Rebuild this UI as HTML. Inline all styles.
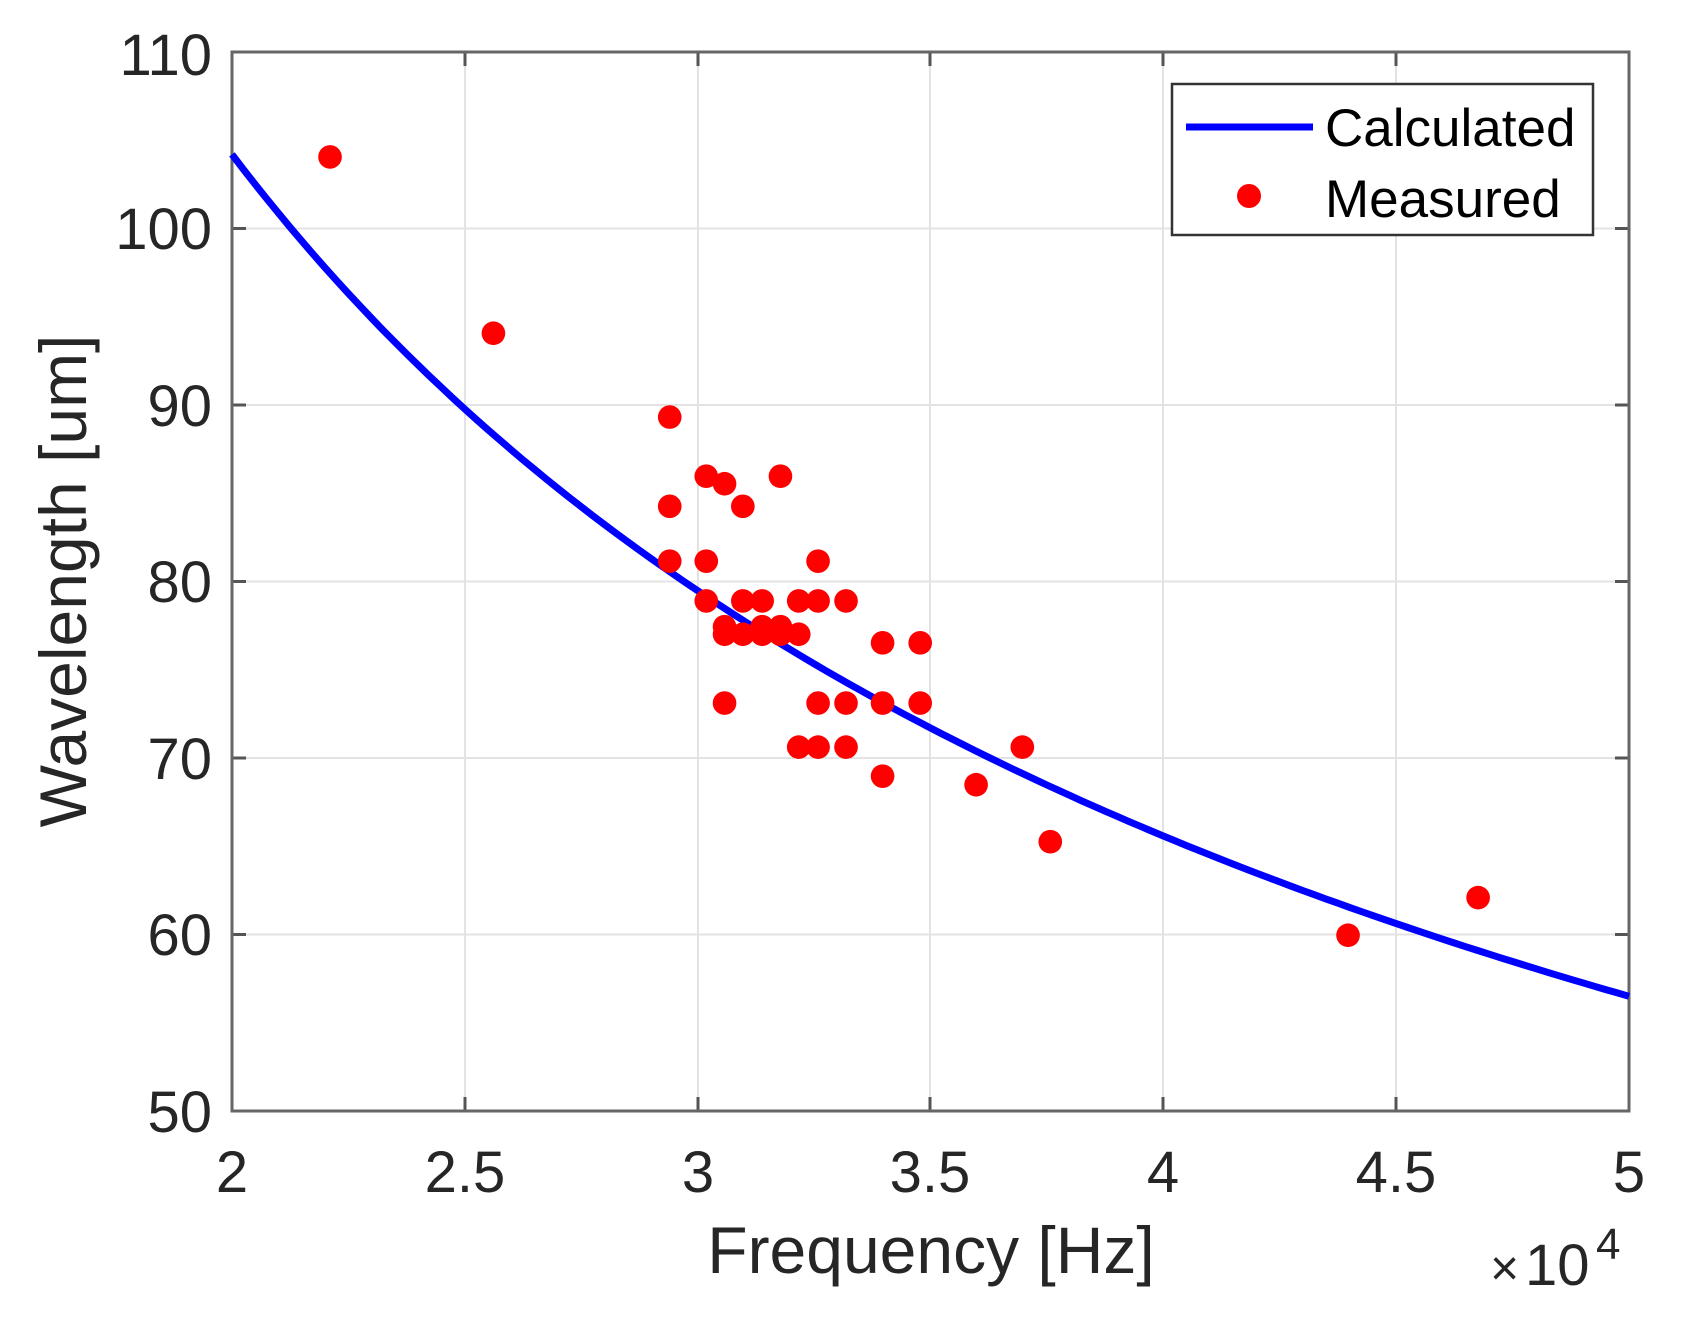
<!DOCTYPE html>
<html><head><meta charset="utf-8"><style>body{margin:0;background:#fff}svg{display:block}</style></head><body>
<svg width="1686" height="1342" xmlns="http://www.w3.org/2000/svg" font-family="Liberation Sans, Arial, sans-serif">
<rect width="1686" height="1342" fill="#fff"/>
<g stroke="#e3e3e3" stroke-width="2">
<line x1="465" y1="52" x2="465" y2="1111"/><line x1="698" y1="52" x2="698" y2="1111"/><line x1="930" y1="52" x2="930" y2="1111"/><line x1="1163" y1="52" x2="1163" y2="1111"/><line x1="1396" y1="52" x2="1396" y2="1111"/>
<line x1="232" y1="228.5" x2="1629" y2="228.5"/><line x1="232" y1="405" x2="1629" y2="405"/><line x1="232" y1="581.5" x2="1629" y2="581.5"/><line x1="232" y1="758" x2="1629" y2="758"/><line x1="232" y1="934.5" x2="1629" y2="934.5"/>
</g>
<g stroke="#555" stroke-width="3">
<line x1="465" y1="1111" x2="465" y2="1097"/><line x1="698" y1="1111" x2="698" y2="1097"/><line x1="930" y1="1111" x2="930" y2="1097"/><line x1="1163" y1="1111" x2="1163" y2="1097"/><line x1="1396" y1="1111" x2="1396" y2="1097"/>
<line x1="465" y1="52" x2="465" y2="66"/><line x1="698" y1="52" x2="698" y2="66"/><line x1="930" y1="52" x2="930" y2="66"/><line x1="1163" y1="52" x2="1163" y2="66"/><line x1="1396" y1="52" x2="1396" y2="66"/>
<line x1="232" y1="228.5" x2="246" y2="228.5"/><line x1="232" y1="405" x2="246" y2="405"/><line x1="232" y1="581.5" x2="246" y2="581.5"/><line x1="232" y1="758" x2="246" y2="758"/><line x1="232" y1="934.5" x2="246" y2="934.5"/>
<line x1="1629" y1="228.5" x2="1615" y2="228.5"/><line x1="1629" y1="405" x2="1615" y2="405"/><line x1="1629" y1="581.5" x2="1615" y2="581.5"/><line x1="1629" y1="758" x2="1615" y2="758"/><line x1="1629" y1="934.5" x2="1615" y2="934.5"/>
</g>
<rect x="232" y="52" width="1397" height="1059" fill="none" stroke="#666" stroke-width="3"/>
<polyline id="curve" fill="none" stroke="#0000ff" stroke-width="7" stroke-linejoin="round" points="232,154.4 348.4,293.6 464.8,409 581.3,506.7 697.7,590.9 814.1,663.7 930.5,728 1047,785 1163.3,836 1279.8,881.9 1396.2,923.6 1512.7,961.5 1629,996.3"/>
<script>
(function(){var p=[];for(var i=0;i<=120;i++){var f=2+3*i/120;var v=104.2*Math.pow(2/f,0.668);p.push((232+(f-2)*465.67).toFixed(1)+','+(1111-(v-50)*17.65).toFixed(1));}document.getElementById('curve').setAttribute('points',p.join(' '));})();
</script>
<g fill="#ff0000" transform="scale(1.075)">
<circle cx="307" cy="146" r="11"/><circle cx="459" cy="310" r="11"/><circle cx="623" cy="388" r="11"/><circle cx="623" cy="471" r="11"/><circle cx="623" cy="522" r="11"/><circle cx="657" cy="443" r="11"/><circle cx="674" cy="450" r="11"/><circle cx="691" cy="471" r="11"/><circle cx="726" cy="443" r="11"/><circle cx="657" cy="522" r="11"/><circle cx="657" cy="559" r="11"/><circle cx="761" cy="522" r="11"/><circle cx="691" cy="559" r="11"/><circle cx="709" cy="559" r="11"/><circle cx="743" cy="559" r="11"/><circle cx="761" cy="559" r="11"/><circle cx="787" cy="559" r="11"/><circle cx="674" cy="583" r="11"/><circle cx="674" cy="590" r="11"/><circle cx="691" cy="590" r="11"/><circle cx="709" cy="583" r="11"/><circle cx="709" cy="590" r="11"/><circle cx="726" cy="583" r="11"/><circle cx="726" cy="590" r="11"/><circle cx="743" cy="590" r="11"/><circle cx="821" cy="598" r="11"/><circle cx="856" cy="598" r="11"/><circle cx="674" cy="654" r="11"/><circle cx="761" cy="654" r="11"/><circle cx="787" cy="654" r="11"/><circle cx="821" cy="654" r="11"/><circle cx="856" cy="654" r="11"/><circle cx="743" cy="695" r="11"/><circle cx="761" cy="695" r="11"/><circle cx="787" cy="695" r="11"/><circle cx="821" cy="722" r="11"/><circle cx="908" cy="730" r="11"/><circle cx="951" cy="695" r="11"/><circle cx="977" cy="783" r="11"/><circle cx="1254" cy="870" r="11"/><circle cx="1375" cy="835" r="11"/>
</g>
<rect x="1172" y="84" width="421" height="151" fill="#fff" stroke="#333" stroke-width="2.5"/>
<line x1="1186" y1="127" x2="1313" y2="127" stroke="#0000ff" stroke-width="7"/>
<circle cx="1249" cy="196" r="12" fill="#ff0000"/>
<g fill="#000" font-size="53"><text x="1325" y="146">Calculated</text><text x="1325" y="217">Measured</text></g>
<g fill="#262626" font-size="58" text-anchor="end">
<text x="212" y="75">110</text><text x="212" y="249">100</text><text x="212" y="426">90</text><text x="212" y="602">80</text><text x="212" y="779">70</text><text x="212" y="955">60</text><text x="212" y="1132">50</text>
</g>
<g fill="#262626" font-size="58" text-anchor="middle">
<text x="232" y="1192">2</text><text x="465" y="1192">2.5</text><text x="698" y="1192">3</text><text x="930" y="1192">3.5</text><text x="1163" y="1192">4</text><text x="1396" y="1192">4.5</text><text x="1629" y="1192">5</text>
</g>
<text x="931" y="1273" font-size="66" fill="#262626" text-anchor="middle">Frequency [Hz]</text>
<text transform="translate(86,581) rotate(-90)" font-size="66" fill="#262626" text-anchor="middle">Wavelength [um]</text>
<text x="1490" y="1285" font-size="50" fill="#262626">×</text>
<text x="1525" y="1285" font-size="58" fill="#262626">10</text>
<text x="1596" y="1259" font-size="44" fill="#262626">4</text>
</svg>
</body></html>
